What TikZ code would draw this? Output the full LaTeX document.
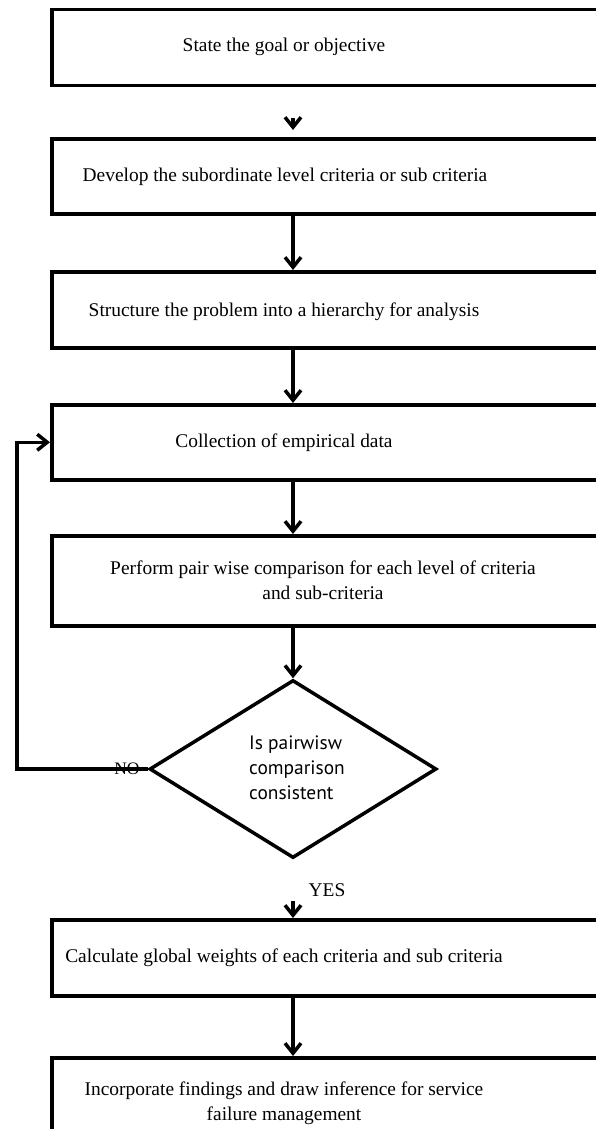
\documentclass[tikz,border=0pt]{standalone}
\usepackage{fontspec}
\setmainfont{Liberation Serif}
\newfontfamily\dsans{PT Sans}
\usetikzlibrary{arrows.meta,shapes.geometric,calc}
\begin{document}
\begin{tikzpicture}[x=1pt,y=-1pt,
  boxst/.style={draw,line width=3.5pt,rectangle,anchor=north west,minimum width=560pt,inner sep=0pt},
  txt/.style={font=\fontsize{19.4}{25}\selectfont,align=center,inner sep=0pt},
  arr/.style={line width=3.5pt,-{Straight Barb[length=10pt,width=16pt,line width=3.5pt]}},
  dtxt/.style={font=\dsans\fontsize{19.4}{25}\selectfont,align=left,inner sep=0pt},
]
\useasboundingbox (0,0) rectangle (595,1129);
\coordinate (ax) at (293,0);
\coordinate (fb) at (17,0);
% boxes
\node[boxst,minimum height=76pt] (b1) at (50,8) {};
\node[boxst,minimum height=75pt] (b2) at (50,137) {};
\node[boxst,minimum height=76pt] (b3) at (50,270) {};
\node[boxst,minimum height=75pt] (b4) at (50,403) {};
\node[boxst,minimum height=90pt] (b5) at (50,534) {};
\node[boxst,minimum height=76pt] (b6) at (50,918) {};
\node[boxst,minimum height=100pt] (b7) at (50,1056) {};
% texts
\node[txt] (t1) at (284,47) {State the goal or objective};
\node[txt] (t2) at (285,177) {Develop the subordinate level criteria or sub criteria};
\node[txt] (t3) at (284,312) {Structure the problem into a hierarchy for analysis};
\node[txt] (t4) at (284,443) {Collection of empirical data};
\node[txt] (t5) at (323,580) {Perform pair wise comparison for each level of criteria\\and sub-criteria};
\node[txt] (t6) at (284,958) {Calculate global weights of each criteria and sub criteria};
\node[txt] (t7) at (284,1103) {Incorporate findings and draw inference for service\\failure management};
% diamond
\node[draw,line width=3.5pt,diamond,aspect=1.61,minimum width=287pt,minimum height=178pt,inner sep=0pt] (d) at (293,769) {};
\node[dtxt] (dt) at (297,768) {Is pairwisw\\comparison\\consistent};
% connectors
\draw[arr] ($(b2.north -| ax)+(0,-19)$) -- ($(b2.north -| ax)+(0,-7)$);
\draw[arr] (b2.south -| ax) -- (b3.north -| ax);
\draw[arr] (b3.south -| ax) -- (b4.north -| ax);
\draw[arr] (b4.south -| ax) -- (b5.north -| ax);
\draw[arr] (b5.south -| ax) -- (d.north);
\draw[arr] (d.west) -- (d.west -| fb) |- (b4.west);
\draw[arr] ($(b6.north -| ax)+(0,-17)$) -- (b6.north -| ax);
\draw[arr] (b6.south -| ax) -- (b7.north -| ax);
% labels
\node[txt,font=\fontsize{17.5}{20}\selectfont] (no) at (127,769) {NO};
\node[txt] (yes) at (327,890) {YES};
\end{tikzpicture}
\end{document}
